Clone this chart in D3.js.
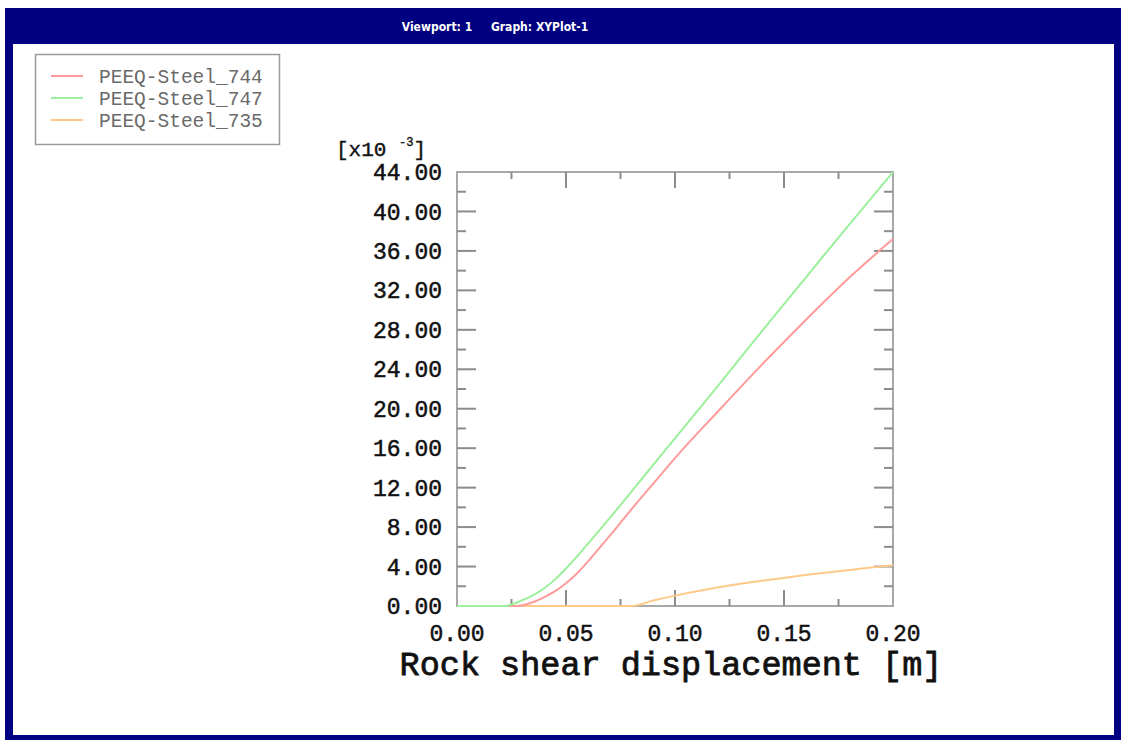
<!DOCTYPE html>
<html>
<head>
<meta charset="utf-8">
<script src="https://cdn.jsdelivr.net/npm/d3@7"></script>
<style>
  html, body { margin: 0; padding: 0; background: #fff; }
  svg { display: block; }
</style>
</head>
<body>
<svg id="chart" width="1123" height="740"></svg>
<script>
// PEEQ vs rock shear displacement (values in x10^-3)
const seriesNames = ['PEEQ-Steel_744', 'PEEQ-Steel_747', 'PEEQ-Steel_735'];
const seriesColors = ['#ff9a9a', '#9cf09c', '#ffc98a'];

const steel744 = [
  [0, 0], [0.027, 0], [0.035, 0.4], [0.04, 0.9], [0.045, 1.5], [0.05, 2.3],
  [0.055, 3.3], [0.06, 4.5], [0.065, 5.8], [0.07, 7.1], [0.08, 9.8], [0.09, 12.4],
  [0.10, 15.0], [0.12, 19.8], [0.14, 24.5], [0.16, 29.0], [0.18, 33.3], [0.20, 37.2]
];
const steel747 = [
  [0, 0], [0.022, 0], [0.03, 0.6], [0.035, 1.1], [0.04, 1.8], [0.045, 2.7],
  [0.05, 3.8], [0.055, 5.0], [0.06, 6.3], [0.065, 7.6], [0.07, 8.9], [0.08, 11.6],
  [0.09, 14.3], [0.10, 17.0], [0.12, 22.4], [0.14, 27.9], [0.16, 33.3], [0.18, 38.7], [0.20, 44.0]
];
const steel735 = [
  [0, 0], [0.08, 0], [0.09, 0.55], [0.10, 1.05], [0.11, 1.5], [0.12, 1.9], [0.13, 2.25],
  [0.14, 2.55], [0.15, 2.85], [0.16, 3.15], [0.17, 3.4], [0.18, 3.65], [0.19, 3.9], [0.20, 4.1]
];
const allSeries = [steel744, steel747, steel735];

const xTicks = [0, 0.05, 0.10, 0.15, 0.20];
const yTicks = [0, 4, 8, 12, 16, 20, 24, 28, 32, 36, 40, 44];

const svg = d3.select('#chart');

// ── Window frame ──
svg.append('rect').attr('x', 5).attr('y', 8).attr('width', 1116).attr('height', 732).attr('fill', '#000080');
svg.append('rect').attr('x', 13).attr('y', 44).attr('width', 1101).attr('height', 691).attr('fill', '#fff');
svg.append('text')
  .attr('x', 495).attr('y', 31)
  .attr('text-anchor', 'middle')
  .attr('font-family', '"DejaVu Sans Condensed", "DejaVu Sans", sans-serif')
  .attr('font-size', '12px')
  .attr('font-weight', 'bold')
  .attr('fill', '#fff')
  .attr('xml:space', 'preserve')
  .text('Viewport: 1     Graph: XYPlot-1');

// ── Scales ──
const plotL = 457, plotR = 893, plotT = 172, plotB = 606;
const x = d3.scaleLinear().domain([0, 0.20]).range([plotL, plotR]);
const y = d3.scaleLinear().domain([0, 44]).range([plotB, plotT]);

const mono = '"Liberation Mono", "DejaVu Sans Mono", monospace';
const axisGray = '#a8a8a8';
const tickGray = '#8c8c8c';

// Frame
svg.append('rect')
  .attr('x', plotL).attr('y', plotT)
  .attr('width', plotR - plotL).attr('height', plotB - plotT)
  .attr('fill', 'none').attr('stroke', axisGray).attr('stroke-width', 2);

// Ticks (inside, on all four sides)
const xMinor = d3.range(0, 0.2001, 0.025);
xMinor.forEach((v, i) => {
  if (i === 0 || i === xMinor.length - 1) return;
  const len = i % 2 === 0 ? 16 : 7;
  const px = x(v);
  svg.append('line').attr('x1', px).attr('x2', px).attr('y1', plotB).attr('y2', plotB - len)
    .attr('stroke', tickGray).attr('stroke-width', 2);
  svg.append('line').attr('x1', px).attr('x2', px).attr('y1', plotT).attr('y2', plotT + len)
    .attr('stroke', tickGray).attr('stroke-width', 2);
});
const yMinor = d3.range(0, 44.001, 2);
yMinor.forEach((v, i) => {
  if (i === 0 || i === yMinor.length - 1) return;
  const len = i % 2 === 0 ? 19 : 9;
  const py = y(v);
  svg.append('line').attr('x1', plotL).attr('x2', plotL + len).attr('y1', py).attr('y2', py)
    .attr('stroke', tickGray).attr('stroke-width', 2);
  svg.append('line').attr('x1', plotR).attr('x2', plotR - len).attr('y1', py).attr('y2', py)
    .attr('stroke', tickGray).attr('stroke-width', 2);
});

// Tick labels
svg.append('g').selectAll('text')
  .data(yTicks)
  .enter()
  .append('text')
  .attr('x', 442)
  .attr('y', d => y(d))
  .attr('dy', '0.35em')
  .attr('text-anchor', 'end')
  .attr('font-family', mono)
  .attr('font-size', '23px')
  .attr('fill', '#111')
  .attr('stroke', '#111')
  .attr('stroke-width', 0.5)
  .text(d => d.toFixed(2));

svg.append('g').selectAll('text')
  .data(xTicks)
  .enter()
  .append('text')
  .attr('x', d => x(d))
  .attr('y', 641)
  .attr('text-anchor', 'middle')
  .attr('font-family', mono)
  .attr('font-size', '23px')
  .attr('fill', '#111')
  .attr('stroke', '#111')
  .attr('stroke-width', 0.5)
  .text(d => d.toFixed(2));

// Scale factor label
const sf = svg.append('text')
  .attr('x', 336).attr('y', 156)
  .attr('font-family', mono)
  .attr('font-size', '21px')
  .attr('fill', '#111')
  .attr('stroke', '#111')
  .attr('stroke-width', 0.4);
sf.append('tspan').text('[x10 ');
sf.append('tspan').attr('font-size', '12px').attr('dy', -10).text('-3');
sf.append('tspan').attr('dy', 10).text(']');

// Axis title
svg.append('text')
  .attr('x', 671).attr('y', 675)
  .attr('text-anchor', 'middle')
  .attr('font-family', mono)
  .attr('font-size', '33.5px')
  .attr('fill', '#111')
  .attr('stroke', '#111')
  .attr('stroke-width', 0.8)
  .text('Rock shear displacement [m]');

// ── Lines ──
const line = d3.line().x(d => x(d[0])).y(d => y(d[1])).curve(d3.curveMonotoneX);
[2, 0, 1].forEach(i => {
  svg.append('path')
    .attr('d', line(allSeries[i]))
    .attr('fill', 'none')
    .attr('stroke', seriesColors[i])
    .attr('stroke-width', 2);
});

// ── Legend ──
svg.append('rect')
  .attr('x', 35.5).attr('y', 54.5).attr('width', 244).attr('height', 90)
  .attr('fill', '#fff').attr('stroke', '#9a9a9a').attr('stroke-width', 1.5);
seriesNames.forEach((name, i) => {
  const ly = 76 + i * 22;
  svg.append('line').attr('x1', 51).attr('x2', 83).attr('y1', ly).attr('y2', ly)
    .attr('stroke', seriesColors[i]).attr('stroke-width', 2);
  svg.append('text')
    .attr('x', 99).attr('y', ly)
    .attr('dy', '0.35em')
    .attr('font-family', mono)
    .attr('font-size', '19.5px')
    .attr('fill', '#6a6a6a')
    .text(name);
});
</script>
</body>
</html>
